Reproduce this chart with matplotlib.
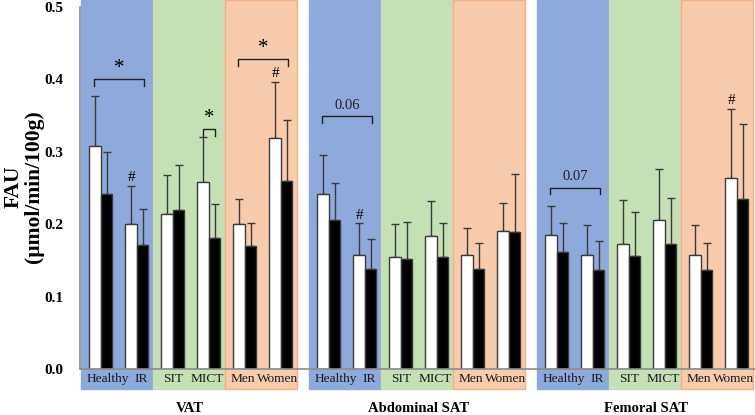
import matplotlib
matplotlib.use("Agg")
import matplotlib.pyplot as plt
from matplotlib.patches import Rectangle

plt.rcParams['font.family'] = ['Liberation Serif', 'DejaVu Serif']

sections = ["VAT", "Abdominal SAT", "Femoral SAT"]
groups = ["Healthy", "IR", "SIT", "MICT", "Men", "Women"]

# mean values (white = first bar, black = second bar) per section, per group
white_mean = [
    [0.307, 0.200, 0.214, 0.258, 0.200, 0.318],
    [0.241, 0.157, 0.154, 0.183, 0.157, 0.190],
    [0.185, 0.157, 0.172, 0.206, 0.157, 0.264],
]
white_sd = [
    [0.070, 0.053, 0.054, 0.062, 0.035, 0.078],
    [0.054, 0.044, 0.046, 0.049, 0.037, 0.039],
    [0.040, 0.042, 0.061, 0.070, 0.041, 0.095],
]
black_mean = [
    [0.242, 0.171, 0.220, 0.181, 0.169, 0.260],
    [0.206, 0.138, 0.152, 0.154, 0.138, 0.189],
    [0.161, 0.137, 0.156, 0.172, 0.137, 0.234],
]
black_sd = [
    [0.058, 0.050, 0.061, 0.047, 0.033, 0.084],
    [0.051, 0.042, 0.051, 0.048, 0.036, 0.080],
    [0.040, 0.039, 0.061, 0.064, 0.037, 0.104],
]

# significance annotations: (section, kind, height, label)
brackets = [
    (0, "pair", 0.400, "*"),
    (0, "mict", 0.331, "*"),
    (0, "sex", 0.427, "*"),
    (1, "pair", 0.349, "0.06"),
    (2, "pair", 0.250, "0.07"),
]
# hash marks: (section, group index)
hashes = [(0, 1), (0, 5), (1, 1), (2, 5)]

panel_colors = ["#8EA9DB", "#C5E0B4", "#F8CBAD"]
panel_edges = ["#8EA9DB", "#C5E0B4", "#F4B183"]
label_shift = [0.6, 0.4, 0.0, -0.1, -0.15, -0.3]

W, H = 755, 415
fig = plt.figure(figsize=(W / 100, H / 100), dpi=100)
ax = fig.add_axes([80 / W, 46 / H, 675 / W, 369 / H])
ymax = 0.509
ax.set_ylim(0, ymax)
ax.set_xlim(-1 / 12, (755 - 81) / 12)

below = 20 / 725
bw = 0.96
for s in range(3):
    s0 = 19 * s
    for p in range(3):
        p0 = s0 + 6 * p
        ax.add_patch(Rectangle((p0, -below), 6, ymax + below, facecolor=panel_colors[p],
                               edgecolor=panel_edges[p], lw=1.0, clip_on=False, zorder=0))
        for k in range(2):
            g = 2 * p + k
            gc = p0 + 1.65 + 3 * k
            xw, xb = gc - bw / 2, gc + bw / 2
            ax.bar(xw, white_mean[s][g], width=bw, color="white", edgecolor="#3a3a3a", lw=1.0, zorder=3)
            ax.bar(xb, black_mean[s][g], width=bw, color="black", edgecolor="#3a3a3a", lw=1.0, zorder=3)
            ax.errorbar([xw, xb], [white_mean[s][g], black_mean[s][g]],
                        yerr=[[0, 0], [white_sd[s][g], black_sd[s][g]]], fmt="none",
                        ecolor="#3a3a3a", elinewidth=1.0, capsize=3, capthick=1.0, zorder=2)
            ax.text(gc + label_shift[g], -below / 2, groups[g], ha="center", va="center", fontsize=9.6,
                    color="#1a1a1a", clip_on=False)
    ax.text(s0 + 9.1, -0.054, sections[s], ha="center", va="center", fontsize=10.5,
            fontweight="bold", clip_on=False)

tick_h = 0.009
for s, kind, yv, lab in brackets:
    s0 = 19 * s
    if kind == "pair":
        x1, x2 = s0 + 1.05, s0 + 5.28
    elif kind == "sex":
        x1, x2 = s0 + 12 + 1.05, s0 + 12 + 5.28
    else:
        x1, x2 = s0 + 6 + 4.17, s0 + 6 + 5.13
    ax.plot([x1, x1, x2, x2], [yv - tick_h, yv, yv, yv - tick_h], color="#222222", lw=1.0, zorder=4)
    if lab == "*":
        ax.text((x1 + x2) / 2, yv + 0.002, lab, ha="center", va="bottom", fontsize=15, zorder=4)
    else:
        ax.text((x1 + x2) / 2, yv + 0.006, lab, ha="center", va="bottom", fontsize=10.5, color="#222222", zorder=4)

for s, g in hashes:
    p0 = 19 * s + 6 * (g // 2)
    gc = p0 + 1.65 + 3 * (g % 2)
    xw = gc - bw / 2
    ax.text(xw, white_mean[s][g] + white_sd[s][g] + 0.002, "#", ha="center", va="bottom",
            fontsize=11, zorder=4)

for side in ["top", "right"]:
    ax.spines[side].set_visible(False)
ax.spines["left"].set_color("#8c8c8c")
ax.spines["left"].set_bounds(0, 0.5)
ax.spines["left"].set_linewidth(1.2)
ax.spines["bottom"].set_color("#8c8c8c")
ax.spines["bottom"].set_linewidth(1.2)
ax.spines["bottom"].set_zorder(5)
ax.set_xticks([])
ax.set_yticks([0, 0.1, 0.2, 0.3, 0.4, 0.5])
ax.set_yticklabels(["0.0", "0.1", "0.2", "0.3", "0.4", "0.5"], fontsize=11, fontweight="bold")
ax.tick_params(axis="y", length=0, pad=12)
ax.set_ylabel("FAU\n(µmol/min/100g)", fontsize=15.5, fontweight="bold", linespacing=1.05)
ax.yaxis.set_label_coords(-0.053, 0.493)

fig.savefig("out.png", dpi=100)
